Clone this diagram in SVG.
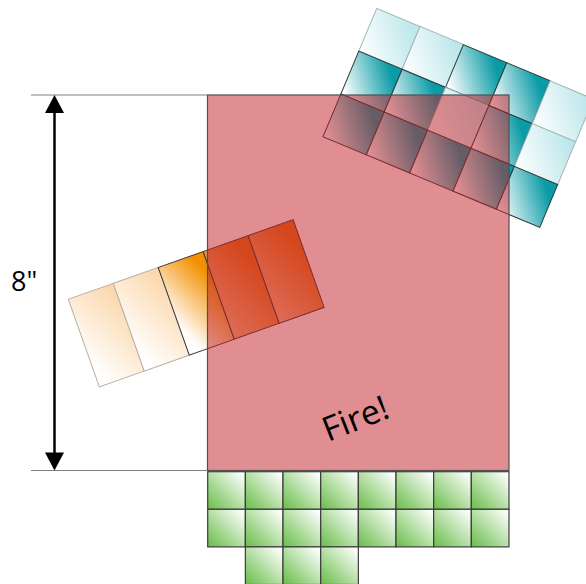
<svg xmlns="http://www.w3.org/2000/svg" width="586" height="584" viewBox="0 0 586 584">
<defs>
<linearGradient id="gTeal" x1="0" y1="1" x2="1" y2="0.2"><stop offset="0.05" stop-color="#ffffff"/><stop offset="0.9" stop-color="#0a9ba6"/></linearGradient>
<linearGradient id="gCyanL" x1="0" y1="1" x2="1" y2="0.2"><stop offset="0" stop-color="#ffffff"/><stop offset="1" stop-color="#bce7eb"/></linearGradient>
<linearGradient id="gOrL" x1="0" y1="1" x2="1" y2="0"><stop offset="0.1" stop-color="#ffffff"/><stop offset="1" stop-color="#fbd5a6"/></linearGradient>
<linearGradient id="gOr" x1="0" y1="1" x2="1" y2="0.1"><stop offset="0.15" stop-color="#ffffff"/><stop offset="0.9" stop-color="#f29000"/></linearGradient>
<linearGradient id="gOrD" x1="0" y1="1" x2="1" y2="0.1"><stop offset="0" stop-color="#f8bb8c"/><stop offset="0.9" stop-color="#e86e10"/></linearGradient>
<linearGradient id="gGreen" x1="1" y1="0" x2="0" y2="1"><stop offset="0.05" stop-color="#ffffff"/><stop offset="1" stop-color="#68bd48"/></linearGradient>
</defs>
<style>
.tl{fill:url(#gCyanL);stroke:#9fb6b8;stroke-width:1}
.tt{fill:url(#gTeal);stroke:#2f3a3c;stroke-width:1}
.ol{fill:url(#gOrL);stroke:#b8b0a8;stroke-width:1}
.oo{fill:url(#gOr);stroke:#3a3a3a;stroke-width:1}
.od{fill:url(#gOrD);stroke:#3a3a3a;stroke-width:1}
.gr{fill:url(#gGreen);stroke:#3c3c3c;stroke-width:1.2}
.dim{stroke:#808080;stroke-width:1.2;fill:none}
.txt{font-family:"Open Sans","Liberation Sans",sans-serif;fill:#000}
</style>
<g id="cyan-tiles" transform="translate(376.7,8.3) rotate(22.7)">
<rect class="tl" x="0" y="0" width="47" height="46.4"/>
<rect class="tl" x="47" y="0" width="47" height="46.4"/>
<rect class="tt" x="94" y="0" width="47" height="46.4"/>
<rect class="tt" x="141" y="0" width="47" height="46.4"/>
<rect class="tl" x="188" y="0" width="47" height="46.4"/>
<rect class="tt" x="0" y="46.4" width="47" height="46.4"/>
<rect class="tt" x="47" y="46.4" width="47" height="46.4"/>
<rect class="tl" x="94" y="46.4" width="47" height="46.4"/>
<rect class="tt" x="141" y="46.4" width="47" height="46.4"/>
<rect class="tl" x="188" y="46.4" width="47" height="46.4"/>
<rect class="tt" x="0" y="92.8" width="47" height="46.4"/>
<rect class="tt" x="47" y="92.8" width="47" height="46.4"/>
<rect class="tt" x="94" y="92.8" width="47" height="46.4"/>
<rect class="tt" x="141" y="92.8" width="47" height="46.4"/>
<rect class="tt" x="188" y="92.8" width="47" height="46.4"/>
</g>
<g id="orange-tiles" transform="translate(68.3,299.3) rotate(-19.5)">
<rect class="ol" x="0" y="0" width="47.7" height="93"/>
<rect class="ol" x="47.7" y="0" width="47.7" height="93"/>
<rect class="oo" x="95.4" y="0" width="47.7" height="93"/>
<rect class="od" x="143.1" y="0" width="47.7" height="93"/>
<rect class="od" x="190.8" y="0" width="47.7" height="93"/>
</g>
<g id="fire-zone">
<rect x="207.5" y="95" width="301.5" height="375.5" fill="#c11d25" fill-opacity="0.5" stroke="#505050" stroke-width="1.2"/>
<text class="txt" font-size="34" transform="translate(328,442) rotate(-21.5)">Fire!</text>
</g>
<g id="green-tiles">
<rect class="gr" x="207.7" y="471.7" width="37.66" height="37.6"/>
<rect class="gr" x="245.36" y="471.7" width="37.66" height="37.6"/>
<rect class="gr" x="283.02" y="471.7" width="37.66" height="37.6"/>
<rect class="gr" x="320.68" y="471.7" width="37.66" height="37.6"/>
<rect class="gr" x="358.34" y="471.7" width="37.66" height="37.6"/>
<rect class="gr" x="396" y="471.7" width="37.66" height="37.6"/>
<rect class="gr" x="433.66" y="471.7" width="37.66" height="37.6"/>
<rect class="gr" x="471.32" y="471.7" width="37.66" height="37.6"/>
<rect class="gr" x="207.7" y="509.3" width="37.66" height="37.6"/>
<rect class="gr" x="245.36" y="509.3" width="37.66" height="37.6"/>
<rect class="gr" x="283.02" y="509.3" width="37.66" height="37.6"/>
<rect class="gr" x="320.68" y="509.3" width="37.66" height="37.6"/>
<rect class="gr" x="358.34" y="509.3" width="37.66" height="37.6"/>
<rect class="gr" x="396" y="509.3" width="37.66" height="37.6"/>
<rect class="gr" x="433.66" y="509.3" width="37.66" height="37.6"/>
<rect class="gr" x="471.32" y="509.3" width="37.66" height="37.6"/>
<rect class="gr" x="245.36" y="546.9" width="37.66" height="37.6"/>
<rect class="gr" x="283.02" y="546.9" width="37.66" height="37.6"/>
<rect class="gr" x="320.68" y="546.9" width="37.66" height="37.6"/>
</g>
<g id="dimension">
<line class="dim" x1="31" y1="95" x2="207.5" y2="95"/>
<line class="dim" x1="31" y1="470.5" x2="207.5" y2="470.5"/>
<line x1="54.5" y1="110" x2="54.5" y2="455" stroke="#000" stroke-width="2.5"/>
<polygon points="54.5,95 45,113 64,113" fill="#000"/>
<polygon points="54.5,470.5 45,452.5 64,452.5" fill="#000"/>
<text class="txt" x="11" y="291" font-size="27">8"</text>
</g>
</svg>
